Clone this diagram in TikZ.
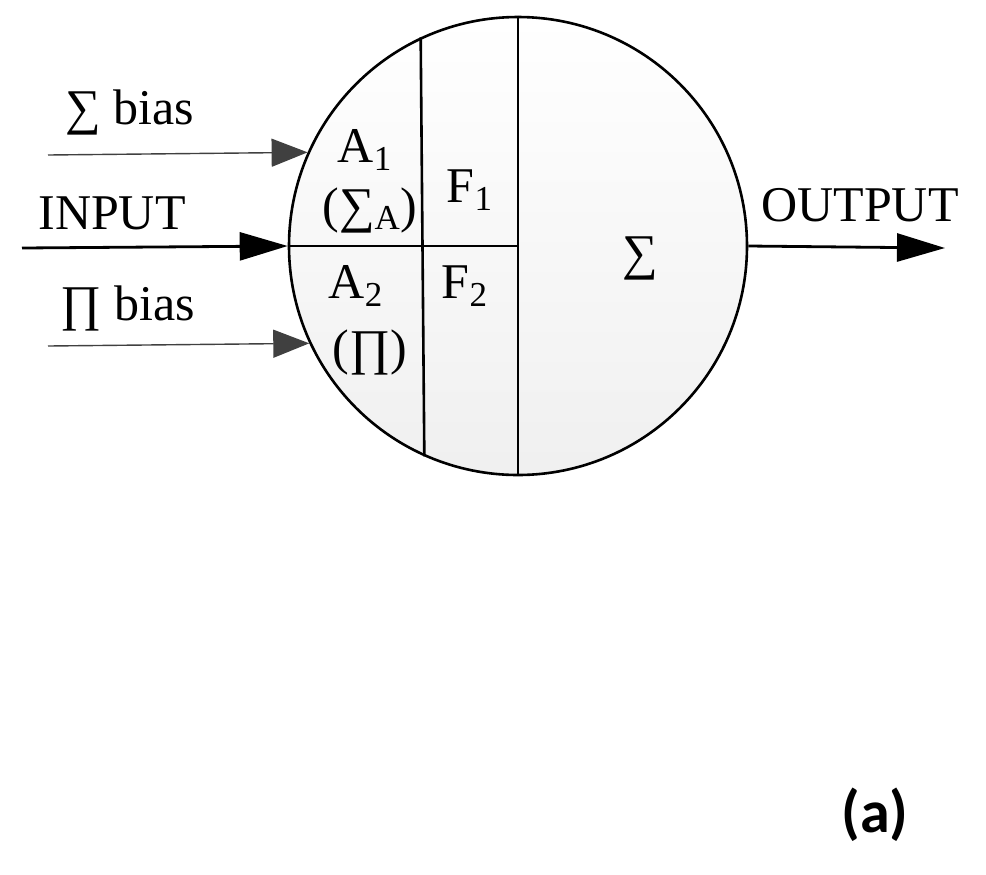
\documentclass[tikz,border=0pt]{standalone}
\usepackage{fontspec}
\setmainfont{Liberation Serif}
\newfontfamily\labfont{Carlito}
\usetikzlibrary{arrows.meta}
\tikzset{
    mytext/.style={font=\fontsize{25}{28}\selectfont,inner sep=0},
    inarrow/.style={-{Triangle[length=18,width=14]}, line width=0.7pt, black!75},
    mainarrow/.style={-{Triangle[length=24,width=14]}, line width=1.4pt}
}
\begin{document}
\begin{tikzpicture}[x=0.5pt,y=-0.5pt]
        \useasboundingbox (0,0) rectangle (986,874);
        % neuron
        \node[circle,draw,line width=1.3pt,minimum size=229pt,inner sep=0,
              top color=white,bottom color=gray!12] (cell) at (518,246) {};
        \draw[line width=1.3pt] (cell.north) -- (cell.south);
        \draw[line width=1.3pt] (cell.west) -- (cell.center);
        \draw[line width=1.3pt] (cell.115.7) -- (cell.246);
        % texts in the cell
        \node[mytext] (a1) at (365,150) {A\textsubscript{1}};
        \node[mytext] (suma) at (370,210) {(∑\textsubscript{A})};
        \node[mytext] (f1) at (470,190) {F\textsubscript{1}};
        \node[mytext] (a2) at (356,286) {A\textsubscript{2}};
        \node[mytext] (prod) at (370,352) {(∏)};
        \node[mytext] (f2) at (465,286) {F\textsubscript{2}};
        \node[mytext] (sum) at (640,258) {∑};
        % labels
        \node[mytext] (sbias) at (130,112) {∑ bias};
        \node[mytext] (input) at (112,213) {INPUT};
        \node[mytext] (pbias) at (128,308) {∏ bias};
        \node[mytext] (output) at (860,205) {OUTPUT};
        \node[font=\labfont\bfseries\fontsize{30}{34}\selectfont] (tag) at (875,815) {(a)};
        % arrows
        \coordinate (sin) at (48,155);
        \coordinate (iin) at (22,248);
        \coordinate (pin) at (48,346);
        \coordinate (oend) at (945,248);
        \draw[inarrow] (sin) -- (cell.156.5);
        \draw[mainarrow] (iin) -- (cell.west);
        \draw[inarrow] (pin) -- (cell.205.5);
        \draw[mainarrow] (cell.east) -- (oend);
\end{tikzpicture}
\end{document}
